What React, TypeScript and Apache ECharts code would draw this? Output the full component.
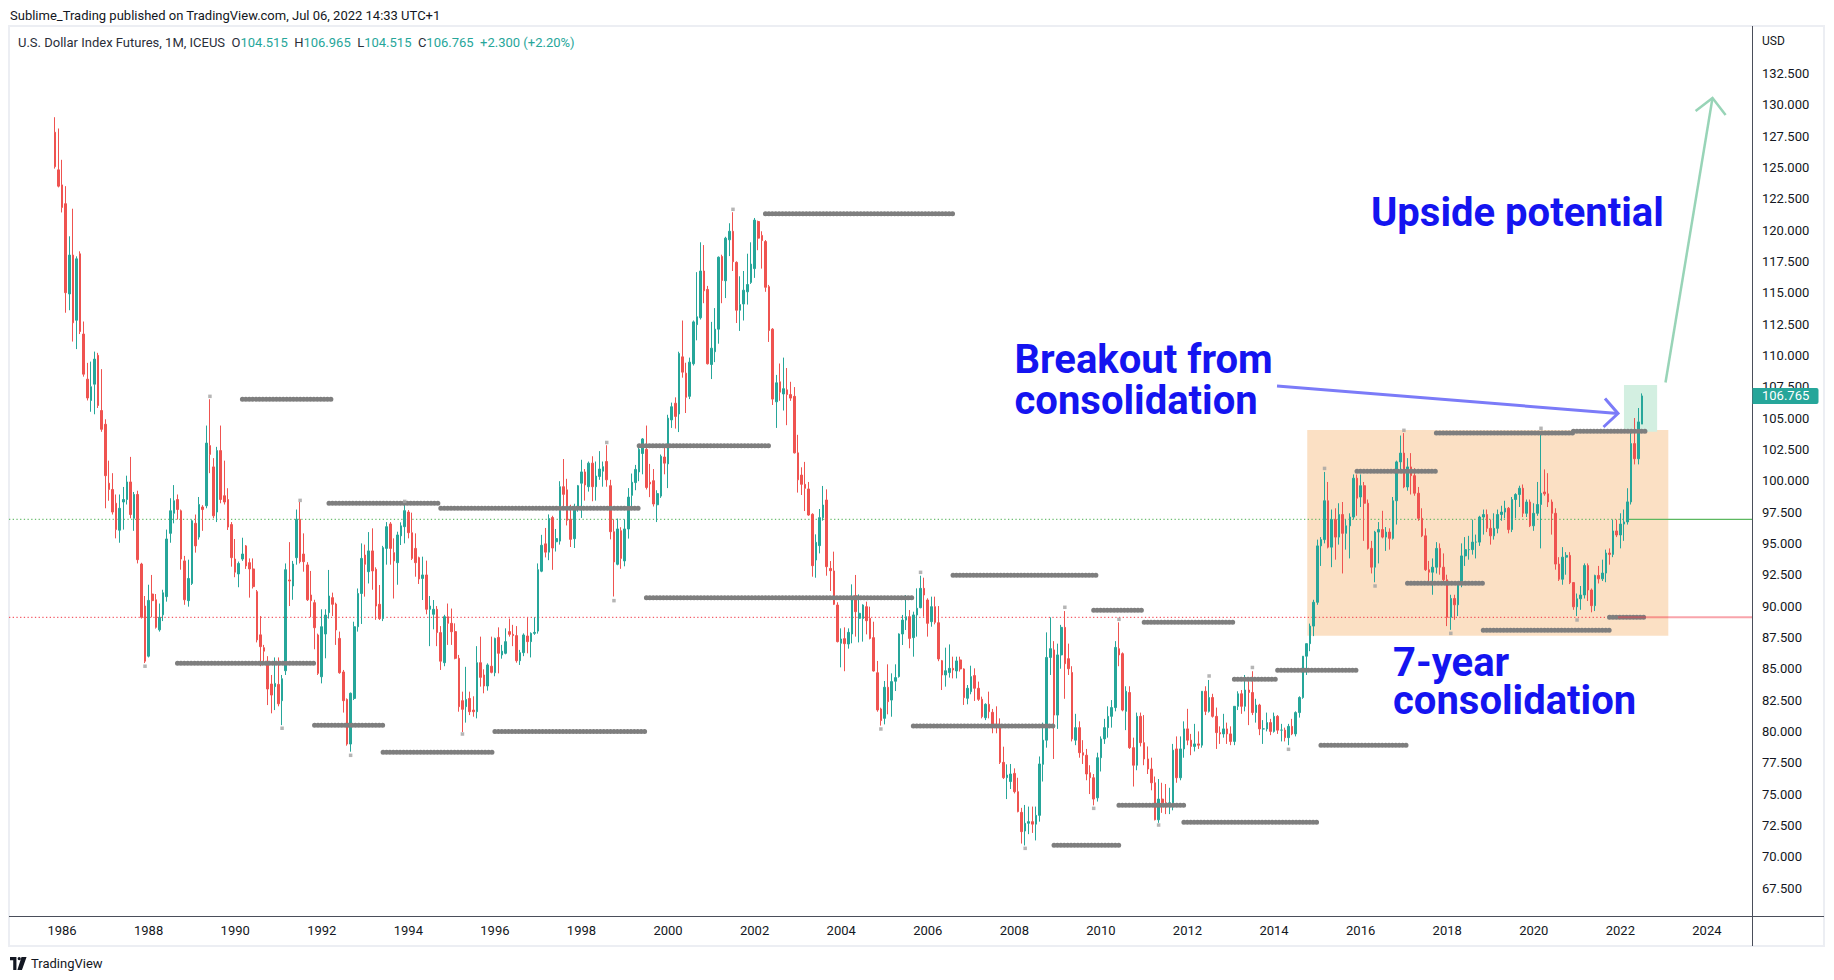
import React, { useEffect, useRef } from 'react';
import * as echarts from 'echarts';

// Monthly candles [open, high, low, close], U.S. Dollar Index Futures (ICEUS), Nov 1985 .. Jul 2022
const Y1985 = [[127.8,129.0,124.9,125.05],[124.8,128.1,123.4,123.5]];
const Y1986 = [[123.6,125.6,121.4,121.8],[122.1,123.5,113.4,115.0],[114.9,119.5,113.6,118.0],[118.0,121.7,111.1,112.6],[112.8,117.9,110.5,117.7],[118.1,118.3,111.7,111.9],[111.7,112.7,108.3,108.5],[108.1,109.4,106.4,106.6],[106.4,109.5,105.5,107.5],[107.7,110.3,105.3,109.7],[110.0,110.2,105.8,106.0],[105.6,108.9,103.9,104.1]];
const Y1987 = [[104.5,104.9,97.8,100.4],[99.8,101.6,98.4,99.3],[99.3,100.6,97.3,97.5],[98.2,98.9,95.4,96.1],[96.05,98.9,95.05,97.8],[98.3,99.5,96.1,98.5],[98.5,100.4,98.1,99.9],[99.9,101.9,97.0,97.3],[97.0,99.1,96.0,98.9],[98.9,99.2,93.4,93.7],[93.35,93.45,89.0,89.1],[90.0,90.8,85.45,85.6]];
const Y1988 = [[86.0,91.7,85.9,90.45],[90.96,92.48,89.1,90.43],[90.5,90.96,88.2,88.3],[88.1,90.2,87.96,89.1],[89.3,91.3,88.8,91.06],[90.75,96.1,90.35,95.35],[95.8,98.6,95.05,97.6],[97.4,99.65,96.6,98.4],[98.5,98.9,96.9,97.7],[97.6,97.7,92.9,93.75],[93.6,94.0,90.1,90.5],[90.43,93.7,89.95,92.2]];
const Y1989 = [[91.8,96.9,91.68,96.8],[96.6,97.3,94.26,94.8],[95.5,98.7,95.3,98.1],[97.9,98.05,96.0,97.7],[98.0,104.4,97.8,103.0],[102.8,106.5,100.6,102.1],[101.1,101.8,97.0,97.2],[97.5,102.7,96.7,102.4],[102.4,104.4,98.2,98.5],[98.8,101.6,98.1,98.3],[98.5,99.4,96.07,96.3],[96.5,96.7,93.14,93.86]];
const Y1990 = [[93.75,95.35,92.3,92.7],[92.56,93.55,91.5,93.4],[93.75,95.45,93.6,94.15],[94.8,94.87,92.96,93.2],[93.46,93.8,90.67,92.96],[92.96,93.8,91.4,91.55],[91.15,91.28,87.1,87.3],[87.7,89.2,85.2,86.76],[86.68,86.9,85.56,86.4],[85.6,86.0,82.1,83.38],[83.78,84.5,81.44,82.9],[83.57,85.9,81.7,83.83]];
const Y1991 = [[83.75,85.9,82.0,82.2],[82.45,84.5,80.5,84.2],[84.84,93.4,84.5,92.9],[92.08,95.1,90.0,92.0],[91.6,93.6,90.5,93.35],[93.86,97.7,93.3,96.92],[96.92,98.3,93.4,93.54],[94.15,95.8,92.74,93.54],[93.28,93.5,90.4,90.5],[90.88,92.8,89.1,90.43],[90.27,90.5,86.55,88.27],[87.69,87.8,84.5,84.63]];
const Y1992 = [[84.36,89.74,83.83,88.35],[87.77,89.74,85.83,89.28],[89.47,92.88,89.0,90.8],[90.67,91.07,89.2,90.14],[90.16,90.27,86.9,88.09],[87.42,87.96,84.6,84.68],[84.74,84.9,81.5,82.45],[82.55,82.63,78.86,78.99],[78.99,83.1,78.38,83.04],[82.63,88.75,82.5,88.35],[88.35,91.4,87.96,91.0],[91.0,95.0,88.57,93.8]];
const Y1993 = [[94.07,94.9,90.75,93.33],[92.74,95.9,91.8,94.4],[94.4,96.2,91.3,92.8],[92.93,93.09,88.9,90.0],[90.14,91.68,88.89,89.0],[89.0,94.8,88.8,94.66],[94.6,96.7,93.3,96.33],[96.55,96.7,93.3,94.6],[94.26,95.4,90.6,93.6],[93.46,95.93,91.7,95.67],[95.6,96.68,94.87,96.4],[96.33,98.06,95.0,97.61]];
const Y1994 = [[97.5,97.66,95.4,95.85],[95.85,97.45,93.67,93.8],[94.6,95.8,92.34,93.46],[93.86,93.94,91.76,92.16],[92.2,93.94,90.48,92.48],[92.48,93.62,89.34,89.74],[89.74,90.8,86.8,90.0],[89.34,90.48,88.14,89.74],[89.74,90.0,86.8,87.88],[87.88,88.4,84.9,85.6],[85.48,89.3,85.2,89.15],[89.15,90.2,86.9,88.62]];
const Y1995 = [[88.62,89.8,86.9,87.95],[87.96,88.62,85.75,85.83],[85.83,86.1,81.57,81.97],[82.45,83.17,79.95,81.76],[81.97,85.15,80.7,82.55],[82.63,83.17,81.3,81.57],[81.7,82.8,81.17,81.57],[81.57,86.8,81.04,85.48],[85.48,87.56,83.57,84.31],[84.5,84.95,83.04,83.62],[83.62,85.43,83.25,85.3],[85.2,87.56,84.63,84.71]];
const Y1996 = [[84.68,87.48,84.4,87.42],[87.5,88.3,84.63,86.23],[86.1,86.9,85.8,86.4],[86.23,88.22,86.15,87.16],[87.96,89.0,87.56,87.74],[87.74,88.5,86.8,87.64],[87.64,88.4,85.48,85.64],[85.64,86.5,85.3,86.28],[86.28,87.82,86.0,87.69],[87.61,89.07,86.23,87.16],[87.16,87.9,85.9,87.82],[87.82,89.1,87.7,87.9]];
const Y1997 = [[88.0,93.4,87.8,92.9],[92.78,95.68,92.7,94.85],[94.96,96.23,93.88,94.3],[94.3,97.31,93.66,96.98],[97.06,97.2,92.89,94.63],[95.13,96.15,94.35,95.38],[95.18,99.96,94.9,99.52],[99.52,101.73,97.86,98.91],[99.27,100.15,96.43,96.84],[96.92,98.08,94.71,95.32],[95.37,98.16,94.63,97.8],[97.8,99.66,97.53,99.6]];
const Y1998 = [[99.8,101.67,97.03,100.7],[100.7,100.93,98.41,99.66],[99.52,101.53,99.13,101.4],[101.4,101.95,98.36,99.52],[99.52,101.53,98.41,100.37],[100.34,102.36,100.07,100.93],[100.76,101.53,99.52,101.12],[101.53,102.83,99.52,100.07],[99.6,100.07,95.32,95.93],[95.93,96.92,90.76,93.52],[93.33,96.98,93.25,96.15],[96.01,96.29,92.97,93.8]];
const Y1999 = [[93.6,96.92,93.17,96.15],[96.15,99.41,95.38,98.69],[98.83,100.57,97.94,99.88],[99.85,101.26,99.24,100.9],[100.7,102.64,99.96,102.5],[102.17,103.4,100.51,103.33],[102.5,104.4,99.3,99.46],[99.88,101.34,98.69,99.74],[100.0,100.93,97.94,98.14],[98.08,99.24,96.7,98.97],[98.77,102.09,98.63,101.95],[101.89,102.72,100.51,101.4]];
const Y2000 = [[101.34,105.26,99.41,104.99],[104.85,106.23,104.21,105.9],[106.18,106.65,104.16,105.13],[105.32,110.29,103.88,110.15],[109.88,112.78,108.22,108.66],[108.58,109.41,105.4,106.65],[106.73,109.82,106.51,109.46],[109.33,112.78,109.19,112.67],[112.45,116.64,111.2,113.08],[113.0,119.02,112.86,116.73],[116.73,118.8,114.16,115.15],[115.26,115.54,109.27,109.33]];
const Y2001 = [[109.27,112.67,108.11,110.57],[110.29,113.77,109.46,112.09],[112.09,117.89,110.93,117.83],[117.89,118.03,114.16,115.98],[115.95,119.46,114.57,119.35],[119.22,120.54,117.92,119.9],[119.9,121.42,116.73,117.47],[117.42,117.5,112.58,113.6],[113.6,116.31,111.95,114.05],[114.1,116.73,112.78,115.2],[115.07,118.11,114.05,115.65],[115.82,119.02,115.7,117.28]];
const Y2002 = [[116.92,120.96,116.18,120.79],[120.68,120.75,118.39,119.35],[119.57,119.9,116.92,119.16],[119.08,119.2,115.07,115.43],[115.48,115.62,111.07,111.98],[112.09,112.17,106.04,106.51],[106.29,108.44,104.21,107.81],[107.89,109.35,106.37,107.06],[106.92,109.82,105.6,107.34],[107.25,108.99,104.43,106.87],[106.87,107.89,106.37,106.59],[106.73,107.47,102.17,102.22]];
const Y2003 = [[102.22,103.66,99.05,100.07],[100.45,101.07,98.86,99.71],[99.71,101.5,97.58,99.39],[99.34,99.9,97.2,97.26],[97.32,97.4,92.34,93.22],[93.67,95.72,92.26,95.08],[94.82,97.74,94.2,97.05],[97.05,99.58,96.81,98.06],[98.46,99.31,92.42,93.14],[93.0,93.59,91.2,92.82],[92.8,94.34,90.08,90.14],[90.08,90.3,87.1,87.16]];
const Y2004 = [[87.03,88.22,85.11,87.37],[87.4,88.3,84.8,87.0],[86.97,88.22,86.6,87.9],[87.77,91.73,87.03,90.75],[90.83,92.48,87.56,89.55],[89.02,90.93,87.1,89.42],[89.0,90.14,87.16,90.08],[89.95,90.35,87.74,88.83],[89.02,89.95,87.34,87.42],[87.48,88.75,84.77,84.82],[84.68,85.62,81.57,81.71],[81.79,81.89,80.46,80.86]];
const Y2005 = [[81.04,84.02,80.56,83.52],[83.52,85.35,81.36,82.37],[82.5,84.63,81.17,83.97],[84.0,85.35,83.22,84.29],[84.37,87.82,84.29,87.77],[87.77,89.29,86.89,88.88],[88.88,90.88,88.09,89.15],[89.15,89.68,86.63,87.42],[87.48,89.55,85.96,89.29],[89.29,91.41,87.56,89.82],[89.87,92.42,89.82,91.41],[91.41,92.26,89.15,90.88]];
const Y2006 = [[90.48,90.62,87.56,88.62],[88.75,90.75,88.35,89.95],[89.95,90.75,88.54,88.7],[88.67,90.0,85.6,85.78],[85.64,85.7,83.3,84.5],[84.5,86.68,83.57,84.84],[84.69,86.94,84.29,85.03],[85.03,85.96,84.23,84.9],[84.82,85.96,84.23,85.62],[85.7,85.96,84.77,84.98],[84.98,85.03,82.11,82.69],[82.64,83.7,82.16,83.44]];
const Y2007 = [[83.17,85.24,82.96,84.37],[84.45,85.03,82.43,83.44],[83.44,83.97,82.43,82.56],[82.56,82.77,81.04,81.17],[81.09,82.24,80.9,82.16],[82.16,83.17,81.04,81.57],[81.52,81.79,79.85,80.56],[80.56,82.0,79.85,80.51],[80.56,81.04,77.4,77.53],[77.53,78.78,76.2,76.31],[76.31,77.37,74.6,76.52],[76.0,77.4,75.4,76.6]];
const Y2008 = [[76.65,77.05,75.05,75.19],[75.19,76.3,73.54,73.6],[73.54,73.9,71.05,72.0],[72.05,74.13,70.9,72.67],[72.67,74.0,71.8,72.8],[72.8,74.0,71.9,72.6],[72.6,74.0,71.3,73.3],[73.3,78.0,72.8,77.4],[77.37,80.7,76.0,79.3],[79.3,87.9,78.7,85.9],[85.9,89.1,84.5,86.6],[86.5,87.2,77.8,81.3]];
const Y2009 = [[81.3,87.0,80.2,86.1],[86.1,88.5,85.0,88.3],[88.3,89.6,82.6,85.4],[85.8,87.0,84.5,85.0],[84.7,85.2,79.2,79.4],[79.3,81.4,78.9,80.3],[80.3,80.8,77.9,78.3],[78.3,79.3,77.4,78.1],[78.1,78.6,76.1,76.6],[76.7,77.3,75.0,76.3],[76.3,76.6,74.1,74.6],[74.7,78.3,74.4,77.9]];
const Y2010 = [[77.9,79.6,76.8,79.4],[79.4,81.0,79.0,80.3],[80.3,82.0,79.5,81.2],[81.2,82.5,80.3,81.9],[81.9,87.2,81.6,86.7],[86.6,88.7,85.2,86.1],[86.2,86.3,81.6,81.7],[81.6,83.6,80.1,83.2],[83.1,83.6,78.6,78.7],[78.7,79.5,75.6,77.3],[77.3,81.5,76.9,81.2],[81.2,81.5,78.8,79.1]];
const Y2011 = [[79.1,81.3,77.3,77.8],[77.8,78.8,76.6,77.0],[77.0,77.9,75.3,75.9],[75.9,76.4,72.9,72.95],[72.95,76.2,72.7,74.6],[74.6,75.9,73.5,74.3],[74.3,75.8,73.4,74.0],[74.0,75.5,73.4,74.3],[74.3,79.0,73.7,78.5],[78.6,79.6,75.9,76.3],[76.3,79.6,76.1,78.6],[78.6,80.8,77.9,80.2]];
const Y2012 = [[80.2,81.8,78.9,79.3],[79.3,79.8,78.1,78.8],[78.8,80.6,78.4,79.0],[79.0,80.0,78.6,78.9],[78.9,83.2,78.7,83.2],[83.2,83.6,81.3,81.6],[81.6,84.1,81.5,82.7],[82.7,83.0,81.1,81.2],[81.2,81.9,78.6,79.9],[79.9,80.4,79.0,79.8],[79.8,81.4,79.5,80.2],[80.2,80.7,79.0,79.8]];
const Y2013 = [[79.8,80.4,78.9,79.2],[79.2,82.0,78.9,82.0],[82.0,83.2,81.7,83.0],[83.0,83.3,81.4,82.0],[82.0,84.5,81.6,83.3],[83.3,84.0,80.5,83.1],[83.1,84.8,81.3,81.5],[81.5,82.6,80.7,82.1],[82.1,82.2,79.7,80.2],[80.2,80.9,79.0,80.2],[80.2,81.5,80.0,80.7],[80.7,81.0,79.7,80.0]];
const Y2014 = [[80.0,81.5,79.9,81.2],[81.2,81.3,79.8,80.1],[80.1,80.6,79.2,80.1],[80.1,80.3,79.2,79.5],[79.5,80.6,78.9,80.4],[80.4,81.0,79.7,79.8],[79.8,81.6,79.6,81.5],[81.5,82.8,81.1,82.7],[82.7,86.0,82.6,86.0],[86.0,87.0,84.5,87.0],[87.0,88.6,86.4,88.4],[88.4,90.5,87.6,90.3]];
const Y2015 = [[90.3,95.3,90.1,94.8],[94.8,95.5,93.2,95.3],[95.3,100.7,95.0,98.4],[98.4,99.9,94.6,94.7],[94.7,97.7,93.1,96.9],[96.9,97.8,93.7,95.5],[95.5,98.2,94.9,97.3],[97.3,98.3,92.6,95.8],[95.8,96.9,94.5,96.4],[96.4,97.4,93.8,97.1],[97.1,100.5,96.9,100.2],[100.2,100.5,97.2,98.6]];
const Y2016 = [[98.7,100.5,97.9,99.6],[99.6,99.9,95.2,98.2],[98.2,98.5,94.5,94.6],[94.6,95.2,92.6,93.1],[93.1,96.0,91.9,95.9],[95.9,96.7,93.4,96.1],[96.1,97.6,95.4,95.5],[95.5,96.3,94.4,95.9],[95.9,96.2,94.5,95.4],[95.4,98.7,95.3,98.4],[98.4,101.6,96.5,101.5],[101.5,103.6,100.6,102.2]];
const Y2017 = [[102.2,103.8,99.4,99.5],[99.5,101.8,99.2,101.1],[101.1,102.2,98.9,100.4],[100.4,101.0,98.8,99.0],[99.0,99.5,96.8,97.0],[97.0,97.8,95.5,95.6],[95.6,96.2,92.8,92.9],[92.9,93.6,91.7,92.7],[92.7,93.8,90.9,93.1],[93.1,95.1,92.6,94.6],[94.6,95.0,92.5,93.1],[93.1,94.2,91.8,92.1]];
const Y2018 = [[92.1,92.5,88.4,89.1],[89.1,90.9,88.1,90.6],[90.6,90.9,88.9,90.1],[90.1,91.9,89.2,91.8],[91.8,95.0,91.5,94.0],[94.0,95.5,93.2,94.5],[94.5,95.6,93.7,94.5],[94.5,96.9,94.1,95.1],[95.1,95.7,93.8,95.1],[95.1,97.2,94.8,97.1],[97.1,97.7,95.7,97.3],[97.3,97.7,95.9,96.2]];
const Y2019 = [[96.2,96.9,94.9,95.6],[95.6,97.4,95.3,96.2],[96.2,97.7,95.8,97.3],[97.3,98.0,96.8,97.5],[97.5,98.4,97.0,97.8],[97.8,97.9,95.8,96.1],[96.1,98.7,95.9,98.5],[98.5,99.0,97.0,98.9],[98.9,99.6,97.9,99.4],[99.4,99.7,97.1,97.4],[97.4,98.5,97.1,98.3],[98.3,98.5,96.3,96.4]];
const Y2020 = [[96.4,98.2,96.0,97.4],[97.4,99.9,97.2,98.1],[98.1,103.9,94.6,99.0],[99.1,100.9,98.8,98.95],[98.95,100.6,97.9,98.3],[98.3,98.5,95.7,97.4],[97.4,97.8,92.9,93.35],[93.35,93.9,92.0,92.14],[92.14,94.7,91.7,93.9],[93.9,94.3,92.5,94.04],[94.04,94.3,91.75,91.87],[91.87,91.9,89.7,89.94]];
const Y2021 = [[89.94,91.0,89.2,90.58],[90.58,91.6,89.7,90.88],[90.88,93.4,90.6,93.23],[93.23,93.4,90.4,91.28],[91.28,91.4,89.5,90.03],[90.03,92.5,89.6,92.44],[92.44,93.2,91.8,92.17],[92.17,93.7,92.0,92.63],[92.63,94.5,91.9,94.23],[94.23,94.6,93.3,94.12],[94.12,96.9,93.9,95.99],[95.99,96.9,95.5,95.67]];
const Y2022 = [[95.67,97.4,94.6,96.54],[96.54,97.7,95.2,96.71],[96.71,99.4,96.5,98.31],[98.31,103.9,98.1,102.96],[102.96,105.0,101.3,101.75],[101.75,105.8,101.3,104.69],[104.515,106.965,104.515,106.765]];

const YEARS = [Y1985,Y1986,Y1987,Y1988,Y1989,Y1990,Y1991,Y1992,Y1993,Y1994,Y1995,Y1996,Y1997,Y1998,Y1999,Y2000,Y2001,Y2002,Y2003,Y2004,Y2005,Y2006,Y2007,Y2008,Y2009,Y2010,Y2011,Y2012,Y2013,Y2014,Y2015,Y2016,Y2017,Y2018,Y2019,Y2020,Y2021,Y2022];

// Pivot high/low levels: [start month index, end month index, price]  (index 0 = Nov 1985)
const PIVOT_LINES = [
  [33.6,71.6,85.43],[51.6,76.8,106.49],[71.6,90.7,80.49],[76.4,106.7,98.2],[90.7,121.7,78.33],
  [106.5,162.3,97.8],[121.7,163.6,80.0],[162,197.5,102.78],[163.5,237.6,90.66],[196.5,248.8,121.3],
  [237.8,277.4,80.42],[248.6,288.7,92.45],[277.4,295.3,70.91],[287.5,302.3,89.66],[295.3,313.3,74.1],
  [302.4,327,88.7],[313,350.4,72.75],[327,338.7,84.16],[338.8,360.6,84.87],[350.5,375,78.9],
  [360.8,382.8,100.75],[375,395.8,91.81],[382.5,420.9,103.8],[395.8,430.8,88.07],[420.6,440.8,103.94],
  [430.8,440.8,89.1]
];
// Pivot markers: [month index, price]
const PIVOT_MARKS = [
  [25,85.2],[43,106.73],[63,80.25],[68,98.43],[82,78.09],[97,98.35],[113,79.79],[153,103.05],[155,90.43],
  [188,121.65],[229,80.19],[240,92.69],[269,70.67],[280,89.9],[288,73.86],[295,88.94],[306,72.53],
  [320,84.42],[332,85.1],[342,78.57],[352,100.98],[366,91.6],[374,104.02],[387,87.82],[412,104.18],[422,88.89]
];
const GREEN_LEVEL = 96.92;
const RED_LEVEL = 89.1;
const CONSOLIDATION = { i0: 347.2, i1: 447.3, top: 104.04, bottom: 87.63 };
const BREAKOUT = { i0: 435.0, i1: 444.2, top: 107.63, bottom: 103.9 };
const LAST = { o: 104.515, h: 106.965, l: 104.515, c: 106.765, chg: '+2.300 (+2.20%)' };

const X_LABEL_YEARS = [1986,1988,1990,1992,1994,1996,1998,2000,2002,2004,2006,2008,2010,2012,2014,2016,2018,2020,2022,2024];
const Y_MIN = 65, Y_MAX = 135, Y_STEP = 2.5;

const FIRST_YEAR = 1985, FIRST_MONTH = 10; // November 1985
const PAD_BEFORE = 12, PAD_AFTER = 30;

const UP = '#26a69a', DOWN = '#ef5350';
const FONT = 'Roboto, "Noto Sans", sans-serif';

try {
  echarts.graphic.registerShape('tvlogo', echarts.graphic.extendPath(
    'M0 0H14V28H7V7H0Z M16.5 3.5A3.5 3.5 0 1 0 23.5 3.5A3.5 3.5 0 1 0 16.5 3.5Z M25 0H36L26 28H16Z', {}));
} catch (e) { /* already registered */ }

export default function App() {
  const ref = useRef<HTMLDivElement>(null);
  useEffect(() => {
    const chart = echarts.init(ref.current!, null, { renderer: 'svg' });
    const candles: number[][] = ([] as number[][]).concat(...YEARS);
    const total = PAD_BEFORE + candles.length + PAD_AFTER;
    const cats: string[] = [];
    const cdata: any[] = [];
    for (let k = 0; k < total; k++) {
      const m = FIRST_MONTH + (k - PAD_BEFORE);
      const y = FIRST_YEAR + Math.floor(m / 12);
      const mo = ((m % 12) + 12) % 12;
      cats.push(`${y}-${String(mo + 1).padStart(2, '0')}`);
      const c = candles[k - PAD_BEFORE];
      cdata.push(c ? [c[0], c[3], c[2], c[1]] : '-');
    }
    const lineSeries = PIVOT_LINES.map((s) => ({
      type: 'line', silent: true, symbol: 'none', z: 4, animation: false,
      data: [[Math.round(s[0] + PAD_BEFORE), s[2]], [Math.round(s[1] + PAD_BEFORE), s[2]]],
      lineStyle: { color: '#7e7e7e', width: 5, type: [0.1, 3.3], cap: 'round' },
    }));
    chart.setOption({
      animation: false,
      backgroundColor: '#ffffff',
      grid: { left: 9.74, right: 82, top: 42, height: 877.4, containLabel: false, outerBoundsMode: 'none' },
      xAxis: {
        type: 'category', data: cats, boundaryGap: true,
        axisLine: { show: false }, axisTick: { show: false }, splitLine: { show: false },
        axisLabel: {
          interval: (_i: number, v: string) => v.endsWith('-01') && X_LABEL_YEARS.includes(parseInt(v, 10)),
          formatter: (v: string) => v.slice(0, 4),
          color: '#131722', fontSize: 13, fontFamily: FONT, margin: 5,
        },
      },
      yAxis: {
        type: 'value', position: 'right', min: Y_MIN, max: Y_MAX, interval: Y_STEP, scale: true,
        axisLine: { show: false }, axisTick: { show: false }, splitLine: { show: false },
        axisLabel: {
          color: '#131722', fontSize: 13, fontFamily: FONT, margin: 10,
          formatter: (v: number) => (v <= Y_MIN || v >= Y_MAX ? '' : v.toFixed(3)),
        },
      },
      series: [
        {
          type: 'candlestick', data: cdata, barWidth: 2.1, z: 3,
          itemStyle: { color: UP, color0: DOWN, borderColor: UP, borderColor0: DOWN, borderWidth: 1 },
        },
        ...lineSeries,
        {
          type: 'scatter', symbol: 'rect', symbolSize: 3.5, z: 4, silent: true,
          itemStyle: { color: '#a2a2a2' },
          data: PIVOT_MARKS.map((p) => [p[0] + PAD_BEFORE, p[1]]),
        },
      ],
    });

    const f = { xAxisIndex: 0, yAxisIndex: 0 };
    const p0 = chart.convertToPixel(f, [0, 100]) as number[];
    const p1 = chart.convertToPixel(f, [100, 100]) as number[];
    const band = (p1[0] - p0[0]) / 100;
    const xOf = (i: number) => p0[0] + (i + PAD_BEFORE) * band;
    const yOf = (v: number) => (chart.convertToPixel(f, [0, v]) as number[])[1];
    const plotR = 1752.5, plotL = 9, frameT = 26, frameB = 946, axisY = 916.5, frameR = 1824;

    const box = (b: any, fill: string, z: number) => ({
      type: 'rect', z, silent: true,
      shape: { x: xOf(b.i0), y: yOf(b.top), width: xOf(b.i1) - xOf(b.i0), height: yOf(b.bottom) - yOf(b.top) },
      style: { fill },
    });
    const big = (text: string, x: number, y: number, lh: number) => ({
      type: 'text', z: 20, x, y, silent: true,
      style: { text, fill: '#1414f0', fontSize: 40, fontWeight: 'bold', fontFamily: FONT, verticalAlign: 'middle', lineHeight: lh },
    });
    const yG = yOf(GREEN_LEVEL), yR = yOf(RED_LEVEL), yC = yOf(LAST.c);

    chart.setOption({
      graphic: [
        { type: 'rect', z: 0, silent: true, shape: { x: plotL, y: frameT, width: frameR - plotL, height: frameB - frameT }, style: { fill: 'none', stroke: '#eceef3', lineWidth: 2 } },
        box(CONSOLIDATION, '#fbe0c4', 1),
        box(BREAKOUT, '#d3efe1', 1),
        { type: 'line', z: 2, silent: true, shape: { x1: plotL, y1: yG, x2: 1628, y2: yG }, style: { stroke: '#4caf50', lineWidth: 1, lineDash: [1.3, 2.4] } },
        { type: 'line', z: 2, silent: true, shape: { x1: 1628, y1: yG, x2: plotR, y2: yG }, style: { stroke: '#5cb860', lineWidth: 1.2 } },
        { type: 'line', z: 2, silent: true, shape: { x1: plotL, y1: yR, x2: 1618, y2: yR }, style: { stroke: '#f23645', lineWidth: 1, lineDash: [1.3, 2.4] } },
        { type: 'line', z: 5, silent: true, shape: { x1: 1618, y1: yR, x2: plotR, y2: yR }, style: { stroke: 'rgba(242,54,69,0.45)', lineWidth: 2 } },
        { type: 'line', z: 6, silent: true, shape: { x1: plotR, y1: frameT, x2: plotR, y2: frameB }, style: { stroke: '#4a4e5a', lineWidth: 1 } },
        { type: 'line', z: 6, silent: true, shape: { x1: plotL, y1: axisY, x2: frameR, y2: axisY }, style: { stroke: '#4a4e5a', lineWidth: 1 } },
        // annotations
        { type: 'polyline', z: 15, silent: true, shape: { points: [[1277, 386], [1618, 413.5]] }, style: { stroke: '#7b7bf8', lineWidth: 3, fill: 'none' } },
        { type: 'polyline', z: 15, silent: true, shape: { points: [[1605, 398.5], [1618, 413.5], [1603.5, 427]] }, style: { stroke: '#7b7bf8', lineWidth: 3, fill: 'none' } },
        { type: 'polyline', z: 15, silent: true, shape: { points: [[1665.5, 382.5], [1712.5, 98]] }, style: { stroke: '#98d4b7', lineWidth: 2.5, fill: 'none' } },
        { type: 'polyline', z: 15, silent: true, shape: { points: [[1695.6, 111], [1712.5, 98], [1725.6, 115]] }, style: { stroke: '#98d4b7', lineWidth: 2.5, fill: 'none' } },
        big('Upside potential', 1371, 212.5, 40),
        big('Breakout from\nconsolidation', 1014.5, 379.5, 41),
        big('7-year\nconsolidation', 1393, 681.3, 38.6),
        // price scale extras
        { type: 'text', z: 10, x: 1762, y: 41, silent: true, style: { text: 'USD', fill: '#131722', fontSize: 12, fontFamily: FONT, verticalAlign: 'middle' } },
        { type: 'rect', z: 30, silent: true, shape: { x: plotR, y: yC - 8, width: 66, height: 16, r: [0, 2, 2, 0] }, style: { fill: UP } },
        { type: 'text', z: 31, x: 1762, y: yC, silent: true, style: { text: LAST.c.toFixed(3), fill: '#ffffff', fontSize: 13, fontFamily: FONT, verticalAlign: 'middle' } },
        // header / legend
        { type: 'text', z: 10, x: 10, y: 15, silent: true, style: { text: 'Sublime_Trading published on TradingView.com, Jul 06, 2022 14:33 UTC+1', fill: '#131722', fontSize: 13, fontFamily: FONT, verticalAlign: 'middle' } },
        {
          type: 'text', z: 10, x: 18, y: 42, silent: true,
          style: {
            text: `{t|U.S. Dollar Index Futures, 1M, ICEUS}  {k|O}{v|${LAST.o.toFixed(3)}}  {k|H}{v|${LAST.h.toFixed(3)}}  {k|L}{v|${LAST.l.toFixed(3)}}  {k|C}{v|${LAST.c.toFixed(3)}}  {v|${LAST.chg}}`,
            fontSize: 13, fontFamily: FONT, verticalAlign: 'middle', fill: '#131722',
            rich: {
              t: { fill: '#2a2e39', fontSize: 13, fontFamily: FONT },
              k: { fill: '#2a2e39', fontSize: 13, fontFamily: FONT },
              v: { fill: UP, fontSize: 13, fontFamily: FONT },
            },
          },
        },
        // footer logo
        { type: 'tvlogo', z: 10, x: 10, y: 957, scaleX: 0.46, scaleY: 0.46, silent: true, style: { fill: '#131722' } },
        { type: 'text', z: 10, x: 31, y: 963.5, silent: true, style: { text: 'TradingView', fill: '#131722', fontSize: 13, fontFamily: FONT, verticalAlign: 'middle' } },
      ],
    });
    return () => chart.dispose();
  }, []);
  return <div ref={ref} style={{ position: 'fixed', left: 0, top: 0, width: '1834px', height: '980px', background: '#fff' }} />;
}
